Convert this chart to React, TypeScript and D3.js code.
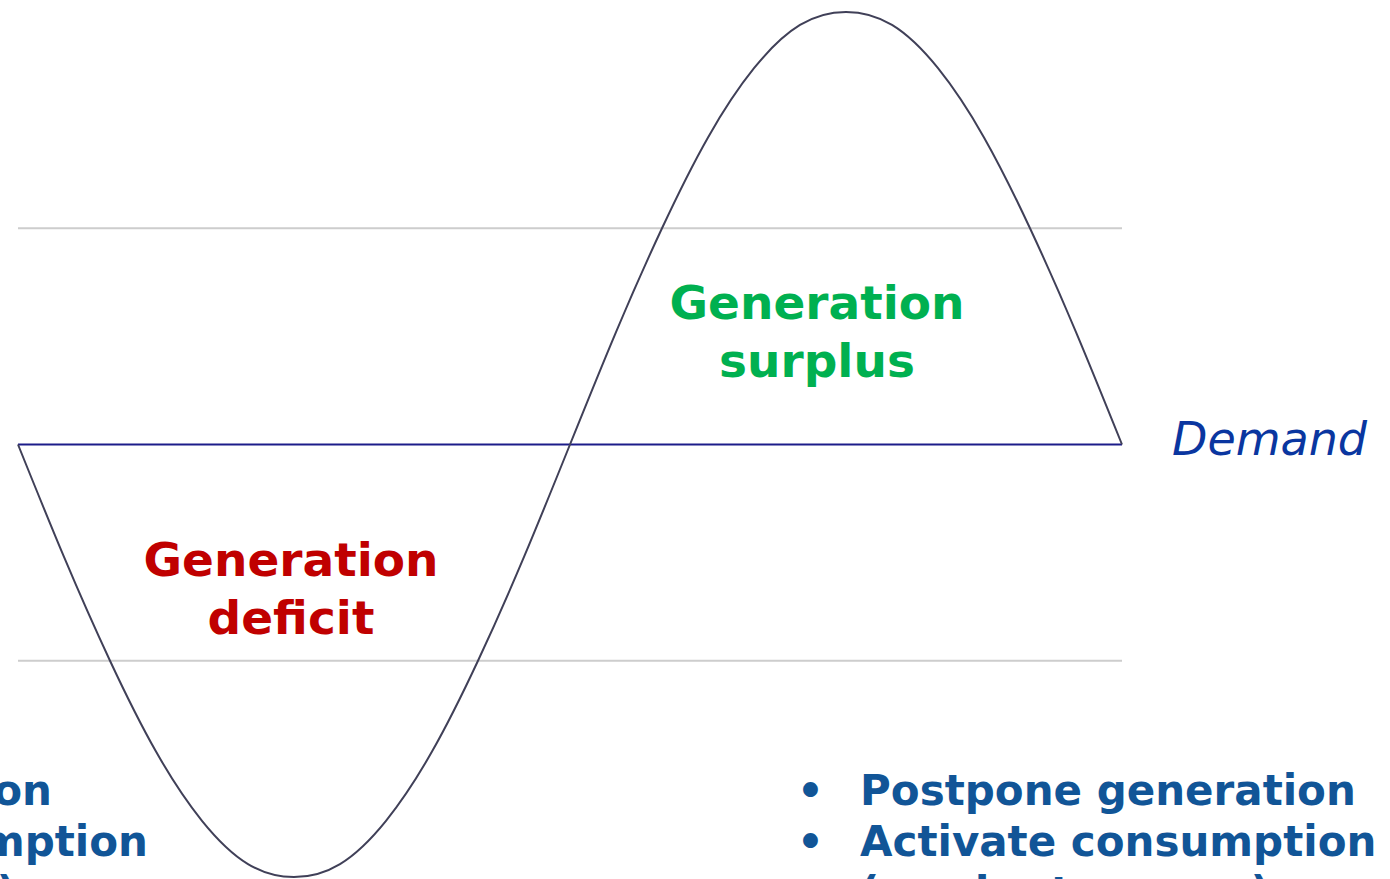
import React from "react";
import * as d3 from "d3";

// one full cycle of generation vs. demand
const phaseDeg = [0, 15, 30, 45, 60, 75, 90, 105, 120, 135, 150, 165, 180, 195, 210, 225, 240, 255, 270, 285, 300, 315, 330, 345, 360];
const deviation = [0, -0.26, -0.5, -0.71, -0.87, -0.97, -1, -0.97, -0.87, -0.71, -0.5, -0.26, 0, 0.26, 0.5, 0.71, 0.87, 0.97, 1, 0.97, 0.87, 0.71, 0.5, 0.26, 0];
const bandLevels = [-0.5, 0.5];
const demandLevel = 0;

const surplusLines = ["Generation", "surplus"];
const deficitLines = ["Generation", "deficit"];
const rightActions = ["Postpone generation", "Activate consumption", "(and storage)"];
const leftActions = ["Advance generation", "Reduce consumption", "(and storage)"];

const W = 1390;
const H = 879;
const FONT = "'DejaVu Sans', Verdana, sans-serif";

export default function App() {
  const x = d3.scaleLinear().domain([0, 360]).range([18, 1122]);
  const y = d3.scaleLinear().domain([-1, 1]).range([877, 12]);

  const line = d3
    .line<number>()
    .x((_, i) => x(phaseDeg[i]))
    .y((d) => y(d))
    .curve(d3.curveNatural);

  return (
    <svg
      width={W}
      height={H}
      style={{ position: "absolute", top: 0, left: 0, background: "#fff" }}
    >
      {bandLevels.map((b) => (
        <line
          key={b}
          x1={x(0)}
          x2={x(360)}
          y1={y(b)}
          y2={y(b)}
          stroke="#cdcdcd"
          strokeWidth={2}
        />
      ))}
      <line
        x1={x(0)}
        x2={x(360)}
        y1={y(demandLevel)}
        y2={y(demandLevel)}
        stroke="#1c1c8a"
        strokeWidth={2}
      />
      <path d={line(deviation) || ""} fill="none" stroke="#404058" strokeWidth={2} />

      <text x={1172} y={455} fill="#0a36a0" fontFamily={FONT} fontStyle="italic" fontSize={46}>
        Demand
      </text>

      {surplusLines.map((t, i) => (
        <text
          key={t}
          x={817}
          y={319 + i * 58}
          textAnchor="middle"
          fill="#00b050"
          fontFamily={FONT}
          fontWeight="bold"
          fontSize={47}
        >
          {t}
        </text>
      ))}
      {deficitLines.map((t, i) => (
        <text
          key={t}
          x={291}
          y={576 + i * 58}
          textAnchor="middle"
          fill="#c00000"
          fontFamily={FONT}
          fontWeight="bold"
          fontSize={47}
        >
          {t}
        </text>
      ))}

      {rightActions.map((t, i) => (
        <g key={t} fill="#115597" fontFamily={FONT} fontWeight="bold" fontSize={42}>
          {i < 2 && <text x={797} y={805 + i * 51}>•</text>}
          <text x={860} y={805 + i * 51} textLength={i === 2 ? 410 : undefined}>
            {t}
          </text>
        </g>
      ))}
      {leftActions.map((t, i) => (
        <text
          key={t}
          x={[52, 148, 16][i]}
          y={805 + i * 51}
          textAnchor="end"
          fill="#115597"
          fontFamily={FONT}
          fontWeight="bold"
          fontSize={42}
        >
          {t}
        </text>
      ))}
    </svg>
  );
}
